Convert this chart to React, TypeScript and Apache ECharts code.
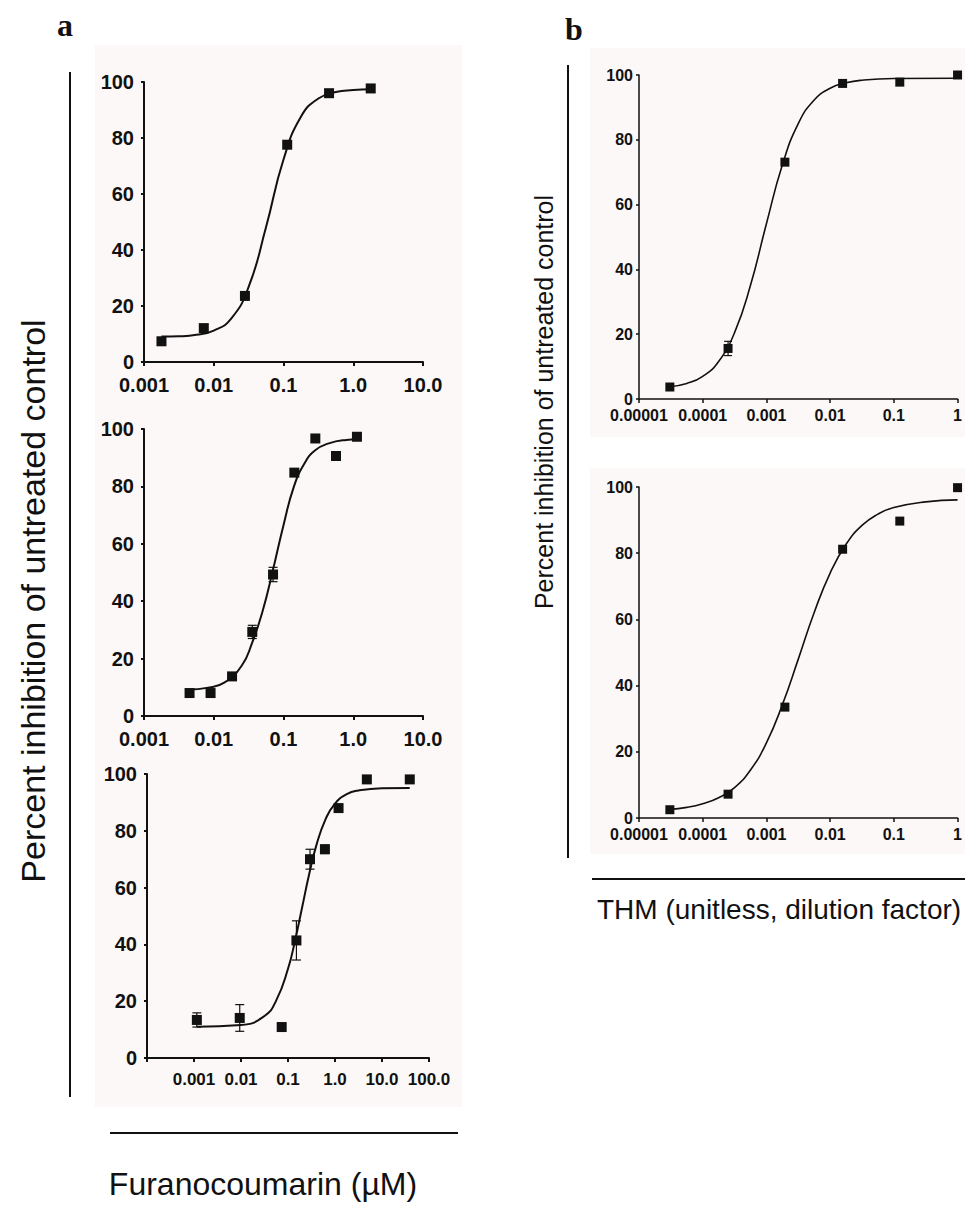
import React, { useEffect, useRef } from "react";
import * as echarts from "echarts";

// ---------- data ----------
// Panel a: furanocoumarin concentration (µM) vs percent inhibition
const a1Points = [[0.00178, 7.4], [0.0072, 12.1], [0.028, 23.6], [0.113, 77.6], [0.45, 96.0], [1.78, 97.7]];
const a1Errors = [0, 0, 0, 0, 0, 0];
const a1Curve = [
  [0.001778, 9.1], [0.003162, 9.2], [0.005623, 9.7], [0.01, 11.2], [0.01778, 15.5], [0.03162, 26.8],
  [0.05623, 48.2], [0.1, 72.3], [0.1778, 87.6], [0.3162, 94.1], [0.5623, 96.4], [1.0, 97.1], [1.778, 97.4],
];

const a2Points = [[0.0045, 8.0], [0.009, 8.0], [0.0183, 13.8], [0.0357, 29.3], [0.0708, 49.3], [0.143, 84.8], [0.286, 96.7], [0.566, 90.6], [1.13, 97.3]];
const a2Errors = [0, 0, 0, 2.3, 2.5, 0, 0, 0, 0];
const a2Curve = [
  [0.004467, 9.2], [0.007943, 9.8], [0.01413, 11.6], [0.02512, 17.5], [0.03548, 25.5], [0.05012, 36.5],
  [0.07079, 51.0], [0.1, 66.5], [0.1413, 80.0], [0.1995, 88.0], [0.2818, 92.5], [0.4467, 95.0],
  [0.7943, 96.2], [1.122, 96.4],
];

const a3Points = [[0.00115, 13.4], [0.0094, 14.1], [0.0734, 10.9], [0.151, 41.4], [0.294, 70.0], [0.61, 73.5], [1.19, 88.0], [4.76, 98.1], [39.0, 98.1]];
const a3Errors = [2.5, 4.7, 0, 6.9, 3.5, 1.5, 0, 0, 0];
const a3Curve = [
  [0.001148, 11.0], [0.01, 11.6], [0.03162, 14.8], [0.05623, 20.3], [0.1, 31.4], [0.1413, 41.4],
  [0.1995, 53.0], [0.2818, 64.7], [0.3981, 74.7], [0.631, 84.1], [1.0, 89.6], [1.778, 92.9],
  [3.162, 94.2], [10.0, 95.0], [38.9, 95.1],
];

// Panel b: THM dilution factor vs percent inhibition
const b1Points = [[3.05e-5, 3.7], [2.5e-4, 15.6], [1.95e-3, 73.1], [0.0157, 97.4], [0.124, 97.8], [1.0, 100.0]];
const b1Errors = [0, 2.2, 0, 0, 0, 0];
const b1Curve = [
  [3.05e-5, 3.8], [5.623e-5, 4.8], [1e-4, 7.0], [1.778e-4, 11.6], [3.162e-4, 20.5], [5.623e-4, 35.1],
  [1e-3, 54.1], [1.778e-3, 72.2], [3.162e-3, 85.0], [5.623e-3, 92.3], [0.01, 95.9], [0.01778, 97.6],
  [0.03162, 98.4], [0.1, 98.9], [1.0, 99.0],
];

const b2Points = [[3.05e-5, 2.5], [2.5e-4, 7.2], [1.95e-3, 33.5], [0.0157, 81.2], [0.124, 89.7], [1.0, 99.8]];
const b2Errors = [0, 0, 0, 0, 0, 0];
const b2Curve = [
  [3.05e-5, 2.6], [5.623e-5, 3.2], [1e-4, 4.3], [1.778e-4, 6.1], [3.162e-4, 9.2], [5.623e-4, 14.5],
  [1e-3, 22.7], [1.778e-3, 34.2], [3.162e-3, 48.0], [5.623e-3, 62.1], [0.01, 74.0], [0.01778, 82.7],
  [0.03162, 88.4], [0.05623, 91.8], [0.1, 93.8], [0.3162, 95.5], [1.0, 96.1],
];

// tick labels by decade exponent
const aTickExps = [-4, -3, -2, -1, 0, 1, 2];
const aTickLabels = ["", "0.001", "0.01", "0.1", "1.0", "10.0", "100.0"];
const bTickExps = [-5, -4, -3, -2, -1, 0];
const bTickLabels = ["0.00001", "0.0001", "0.001", "0.01", "0.1", "1"];

const yMin = 0;
const yMax = 100;
const yStep = 20;

// ---------- layout ----------
type Panel = {
  left: number; top: number; width: number; height: number;
  xMin: number; xMax: number; decades: number;
  points: number[][]; errors: number[]; curve: number[][];
  kind: "a" | "b"; xFont: number; yFont: number;
};

const panels: Panel[] = [
  { left: 144, top: 82, width: 279, height: 280, xMin: 0.001, xMax: 10, decades: 4, points: a1Points, errors: a1Errors, curve: a1Curve, kind: "a", xFont: 20, yFont: 20 },
  { left: 144, top: 429, width: 279, height: 287, xMin: 0.001, xMax: 10, decades: 4, points: a2Points, errors: a2Errors, curve: a2Curve, kind: "a", xFont: 20, yFont: 20 },
  { left: 147, top: 774, width: 282, height: 284, xMin: 0.0001, xMax: 100, decades: 6, points: a3Points, errors: a3Errors, curve: a3Curve, kind: "a", xFont: 17, yFont: 20 },
  { left: 639, top: 75, width: 323, height: 324, xMin: 0.00001, xMax: 1, decades: 5, points: b1Points, errors: b1Errors, curve: b1Curve, kind: "b", xFont: 16, yFont: 16 },
  { left: 639, top: 487, width: 323, height: 331, xMin: 0.00001, xMax: 1, decades: 5, points: b2Points, errors: b2Errors, curve: b2Curve, kind: "b", xFont: 16, yFont: 16 },
];

const INK = "#111111";
const TICK_FONT = "'Liberation Sans', Arial, sans-serif";
const SANS = "'Liberation Sans', Arial, sans-serif";
const SERIF = "'Liberation Serif', 'Times New Roman', serif";

function labelFor(kind: "a" | "b", v: number): string {
  const e = Math.round(Math.log10(v));
  const exps = kind === "a" ? aTickExps : bTickExps;
  const labs = kind === "a" ? aTickLabels : bTickLabels;
  const i = exps.indexOf(e);
  return i >= 0 ? labs[i] : "";
}

function buildOption() {
  const grid: any[] = [];
  const xAxis: any[] = [];
  const yAxis: any[] = [];
  const series: any[] = [];

  panels.forEach((p, i) => {
    const isA = p.kind === "a";
    const axisW = isA ? 2 : 1.5;
    grid.push({ left: p.left, top: p.top, width: p.width, height: p.height, containLabel: false });
    xAxis.push({
      gridIndex: i,
      type: "log",
      logBase: 10,
      min: p.xMin,
      max: p.xMax,
      splitNumber: p.decades,
      axisLine: { show: true, lineStyle: { color: INK, width: axisW } },
      axisTick: { show: true, length: 4, lineStyle: { color: INK, width: axisW } },
      minorTick: { show: false },
      splitLine: { show: false },
      axisLabel: {
        formatter: (v: number) => labelFor(p.kind, v),
        fontFamily: TICK_FONT,
        fontWeight: "bold",
        fontSize: p.xFont,
        color: INK,
        margin: isA ? 13 : 8,
        interval: 0,
        showMinLabel: true,
        showMaxLabel: true,
        hideOverlap: false,
      },
    });
    yAxis.push({
      gridIndex: i,
      type: "value",
      min: yMin,
      max: yMax,
      interval: yStep,
      axisLine: { show: true, lineStyle: { color: INK, width: axisW } },
      axisTick: { show: true, length: 3, lineStyle: { color: INK, width: axisW } },
      splitLine: { show: false },
      axisLabel: {
        fontFamily: TICK_FONT,
        fontWeight: "bold",
        fontSize: p.yFont,
        color: INK,
        margin: isA ? 10 : 6,
      },
    });

    series.push({
      type: "line",
      xAxisIndex: i,
      yAxisIndex: i,
      data: p.curve,
      smooth: 0.5,
      showSymbol: false,
      symbol: "none",
      lineStyle: { color: INK, width: isA ? 2 : 1.6 },
      z: 3,
      silent: true,
    });

    const errData = p.points
      .map((pt, k) => [pt[0], pt[1], p.errors[k]])
      .filter((d) => d[2] > 0);
    series.push({
      type: "custom",
      xAxisIndex: i,
      yAxisIndex: i,
      data: errData,
      z: 4,
      silent: true,
      renderItem: (_params: any, api: any) => {
        const x = api.value(0);
        const y = api.value(1);
        const e = api.value(2);
        const top = api.coord([x, y + e]);
        const bot = api.coord([x, y - e]);
        const hw = isA ? 4.5 : 4;
        const st = { stroke: INK, lineWidth: 1.2 };
        return {
          type: "group",
          children: [
            { type: "line", shape: { x1: top[0], y1: top[1], x2: bot[0], y2: bot[1] }, style: st },
            { type: "line", shape: { x1: top[0] - hw, y1: top[1], x2: top[0] + hw, y2: top[1] }, style: st },
            { type: "line", shape: { x1: bot[0] - hw, y1: bot[1], x2: bot[0] + hw, y2: bot[1] }, style: st },
          ],
        };
      },
    });

    series.push({
      type: "scatter",
      xAxisIndex: i,
      yAxisIndex: i,
      data: p.points,
      symbol: "rect",
      symbolSize: isA ? 10 : 9,
      itemStyle: { color: INK, opacity: 1 },
      z: 5,
      silent: true,
    });
  });

  const bg = "#fcf8f7";
  const graphic: any[] = [
    { type: "rect", z: -10, shape: { x: 95, y: 45, width: 367, height: 1062 }, style: { fill: bg } },
    { type: "rect", z: -10, shape: { x: 590, y: 48, width: 375, height: 389 }, style: { fill: bg } },
    { type: "rect", z: -10, shape: { x: 590, y: 468, width: 375, height: 386 }, style: { fill: bg } },
    // frame lines
    { type: "line", shape: { x1: 70, y1: 72, x2: 70, y2: 1097 }, style: { stroke: INK, lineWidth: 2 } },
    { type: "line", shape: { x1: 568, y1: 65, x2: 568, y2: 858 }, style: { stroke: INK, lineWidth: 2 } },
    { type: "line", shape: { x1: 110, y1: 1133, x2: 458, y2: 1133 }, style: { stroke: INK, lineWidth: 2 } },
    { type: "line", shape: { x1: 592, y1: 879, x2: 965, y2: 879 }, style: { stroke: INK, lineWidth: 2 } },
    // panel letters
    { type: "text", x: 65, y: 25, style: { text: "a", fontFamily: SERIF, fontWeight: "bold", fontSize: 32, fill: INK, textAlign: "center", textVerticalAlign: "middle" } },
    { type: "text", x: 574, y: 29, style: { text: "b", fontFamily: SERIF, fontWeight: "bold", fontSize: 32, fill: INK, textAlign: "center", textVerticalAlign: "middle" } },
    // axis titles
    { type: "text", x: 33, y: 601, rotation: Math.PI / 2, style: { text: "Percent inhibition of untreated control", fontFamily: SANS, fontSize: 34, fill: INK, textAlign: "center", textVerticalAlign: "middle" } },
    { type: "text", x: 544, y: 402, rotation: Math.PI / 2, style: { text: "Percent inhibition of untreated control", fontFamily: SANS, fontSize: 25, fill: INK, textAlign: "center", textVerticalAlign: "middle" } },
    { type: "text", x: 263, y: 1184, style: { text: "Furanocoumarin (µM)", fontFamily: SANS, fontSize: 32, fill: INK, textAlign: "center", textVerticalAlign: "middle" } },
    { type: "text", x: 597, y: 909, style: { text: "THM (unitless, dilution factor)", fontFamily: SANS, fontSize: 28, fill: INK, textAlign: "left", textVerticalAlign: "middle" } },
  ];

  return {
    animation: false,
    backgroundColor: "#ffffff",
    grid,
    xAxis,
    yAxis,
    series,
    graphic,
  };
}

export default function App() {
  const ref = useRef<HTMLDivElement>(null);
  useEffect(() => {
    document.body.style.margin = "0";
    if (!ref.current) return;
    const chart = echarts.init(ref.current, undefined, { renderer: "svg" });
    chart.setOption(buildOption() as any);
    return () => chart.dispose();
  }, []);
  return (
    <div
      ref={ref}
      style={{ position: "absolute", left: 0, top: 0, width: 965, height: 1213 }}
    />
  );
}
